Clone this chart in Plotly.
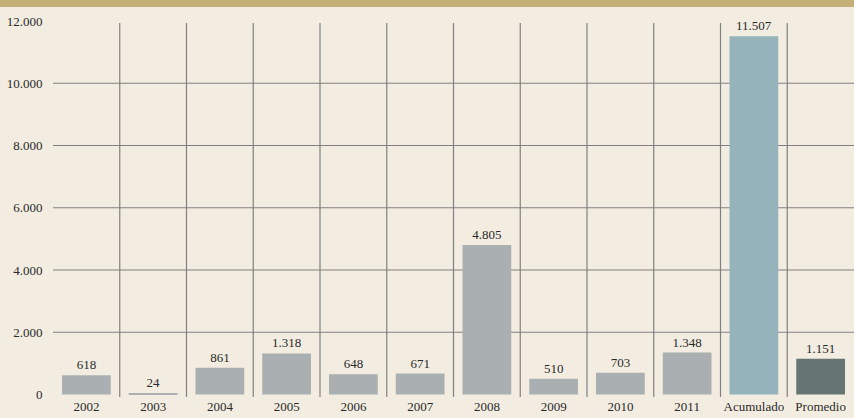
import plotly.graph_objects as go

categories = ["2002", "2003", "2004", "2005", "2006", "2007", "2008", "2009", "2010", "2011", "Acumulado", "Promedio"]
values = [618, 24, 861, 1318, 648, 671, 4805, 510, 703, 1348, 11507, 1151]
bar_colors = ["#aab0b1"] * 10 + ["#94b3ba", "#667472"]
y_ticks = [0, 2000, 4000, 6000, 8000, 10000, 12000]
y_tick_labels = ["0", "2.000", "4.000", "6.000", "8.000", "10.000", "12.000"]
grid_values = [2000, 4000, 6000, 8000, 10000]

labels = [f"{v:,}".replace(",", ".") for v in values]

font_family = "Liberation Serif, DejaVu Serif, serif"

fig = go.Figure(go.Bar(
    x=categories, y=values, marker=dict(color=bar_colors, line=dict(width=0)),
    width=0.73, text=labels, textposition="outside", cliponaxis=False,
    textfont=dict(family=font_family, size=13, color="#2a2a2a"),
))

shapes = []
# vertical separators between categories
for i in range(len(categories) - 1):
    shapes.append(dict(type="line", xref="x", yref="paper", x0=i + 0.5, x1=i + 0.5,
                       y0=0, y1=0.995, line=dict(color="#808080", width=1.2), layer="below"))
# horizontal grid lines
for g in grid_values:
    shapes.append(dict(type="line", xref="paper", yref="y", x0=0, x1=1, y0=g, y1=g,
                       line=dict(color="#808080", width=1.2), layer="below"))
# top tan band
shapes.append(dict(type="rect", xref="paper", yref="paper", x0=-0.07, x1=1.01,
                   y0=1.037, y1=1.06, fillcolor="#c6b07a", line=dict(width=0), layer="below"))

fig.update_layout(
    width=854, height=418,
    margin=dict(l=53, r=0, t=21, b=21),
    paper_bgcolor="#f3ede1", plot_bgcolor="#f3ede1",
    font=dict(family=font_family, size=13, color="#2a2a2a"),
    showlegend=False, bargap=0.27,
    shapes=shapes,
    xaxis=dict(type="category", range=[-0.5, 11.5], showgrid=False, zeroline=False,
               showline=False, ticks="",
               tickfont=dict(family=font_family, size=13, color="#2a2a2a")),
    yaxis=dict(range=[-80, 12000], tickvals=y_ticks, ticktext=y_tick_labels,
               showgrid=False, zeroline=False, showline=False,
               ticks="outside", ticklen=7, tickcolor="rgba(0,0,0,0)",
               tickfont=dict(family=font_family, size=13, color="#2a2a2a")),
)

fig.write_html("out.html", config={"displayModeBar": False},
               post_script="document.body.style.margin='0';document.body.style.background='#f3ede1';")
